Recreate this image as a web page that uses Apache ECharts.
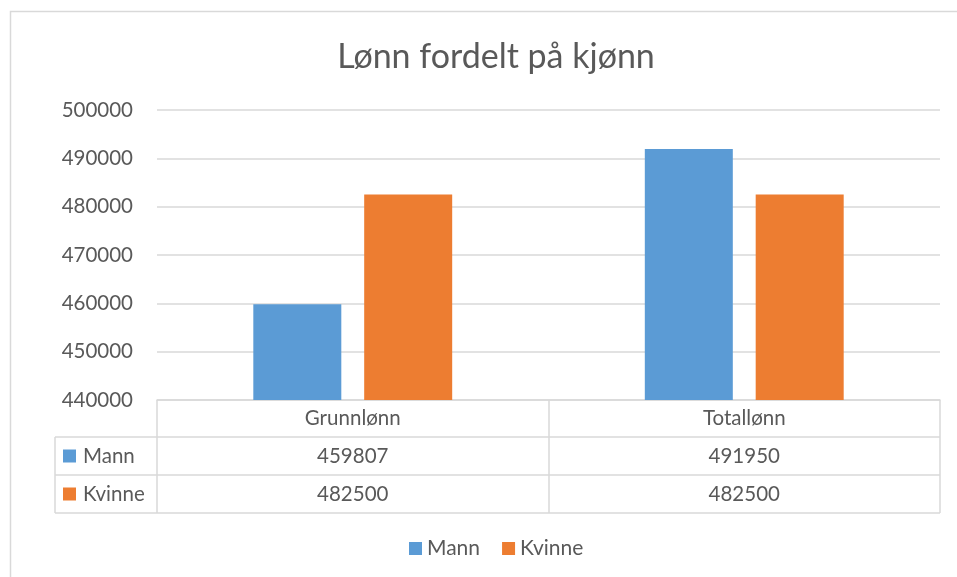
<!DOCTYPE html>
<html>
<head>
<meta charset="utf-8">
<script src="https://cdn.jsdelivr.net/npm/echarts@6/dist/echarts.min.js"></script>
<style>
  html, body { margin: 0; padding: 0; background: #fff; }
  #chart { width: 957px; height: 577px; }
</style>
</head>
<body>
<div id="chart"></div>
<script>
// -- Data --
const categories = ['Grunnlønn', 'Totallønn'];
const seriesNames = ['Mann', 'Kvinne'];
const mannValues = [459807, 491950];
const kvinneValues = [482500, 482500];
const seriesColors = ['#5b9bd5', '#ed7d31'];

const TEXT = '#595959';
const LINE = '#d9d9d9';
const FONT = 'Lato, "Open Sans", sans-serif';
const FS = 20.5;

const grid = { left: 157, right: 17, top: 110, bottom: 177 };
const rowEdges = [437, 475, 513];   // data table row borders
const tableLeft = 55;

const chart = echarts.init(document.getElementById('chart'), null, { renderer: 'canvas' });

chart.setOption({
  animation: false,
  backgroundColor: '#fff',
  textStyle: { fontFamily: FONT },
  title: {
    text: 'Lønn fordelt på kjønn',
    left: 491, top: 35, textAlign: 'center',
    textStyle: { fontSize: 34, fontWeight: 'normal', color: TEXT, fontFamily: FONT }
  },
  legend: {
    data: seriesNames,
    bottom: 13, left: 404,
    icon: 'rect', itemWidth: 13, itemHeight: 13, itemGap: 22, itemStyle: { borderWidth: 0 },
    textStyle: { fontSize: 21, color: TEXT, fontFamily: FONT }
  },
  grid,
  xAxis: {
    type: 'category',
    data: categories,
    axisLine: { show: true, lineStyle: { color: LINE, width: 1.5 } },
    axisTick: { show: true, length: 113, lineStyle: { color: LINE, width: 1.5 } },
    axisLabel: { margin: 8, fontSize: FS, color: TEXT, fontFamily: FONT }
  },
  yAxis: {
    type: 'value',
    min: 440000, max: 500000, interval: 10000,
    axisLine: { show: false },
    axisTick: { show: false },
    axisLabel: { margin: 24, fontSize: FS, color: TEXT, fontFamily: FONT,
      formatter: v => String(v) },
    splitLine: { lineStyle: { color: LINE, width: 1.5 } }
  },
  series: [
    { name: seriesNames[0], type: 'bar', data: mannValues, barWidth: 88, barGap: '26%',
      itemStyle: { color: seriesColors[0] } },
    { name: seriesNames[1], type: 'bar', data: kvinneValues, barWidth: 88,
      itemStyle: { color: seriesColors[1] } }
  ]
});

// -- Data table below the axis --
function buildTable() {
  const right = 957 - grid.right;
  const els = [];
  const line = (x1, y1, x2, y2) => ({
    type: 'line', shape: { x1, y1, x2, y2 },
    style: { stroke: LINE, lineWidth: 1.5 }, silent: true
  });
  rowEdges.forEach(y => els.push(line(tableLeft, y, right, y)));
  els.push(line(tableLeft, rowEdges[0], tableLeft, rowEdges[2]));
  // chart outer border
  els.push({ type: 'rect', shape: { x: 10.5, y: 11.5, width: 980, height: 600 },
    style: { fill: 'none', stroke: LINE, lineWidth: 1.5 }, silent: true });

  const rows = [mannValues, kvinneValues];
  rows.forEach((vals, r) => {
    const yMid = (rowEdges[r] + rowEdges[r + 1]) / 2;
    els.push({ type: 'rect', shape: { x: 63, y: yMid - 6.5, width: 13, height: 13 },
      style: { fill: seriesColors[r] }, silent: true });
    els.push({ type: 'text', x: 83, y: yMid,
      style: { text: seriesNames[r], fontSize: FS, fill: TEXT, fontFamily: FONT,
        verticalAlign: 'middle', align: 'left' }, silent: true });
    vals.forEach((v, c) => {
      const x = chart.convertToPixel({ xAxisIndex: 0 }, categories[c]);
      els.push({ type: 'text', x, y: yMid,
        style: { text: String(v), fontSize: FS, fill: TEXT, fontFamily: FONT,
          verticalAlign: 'middle', align: 'center' }, silent: true });
    });
  });
  chart.setOption({ graphic: els });
}
buildTable();
</script>
</body>
</html>
